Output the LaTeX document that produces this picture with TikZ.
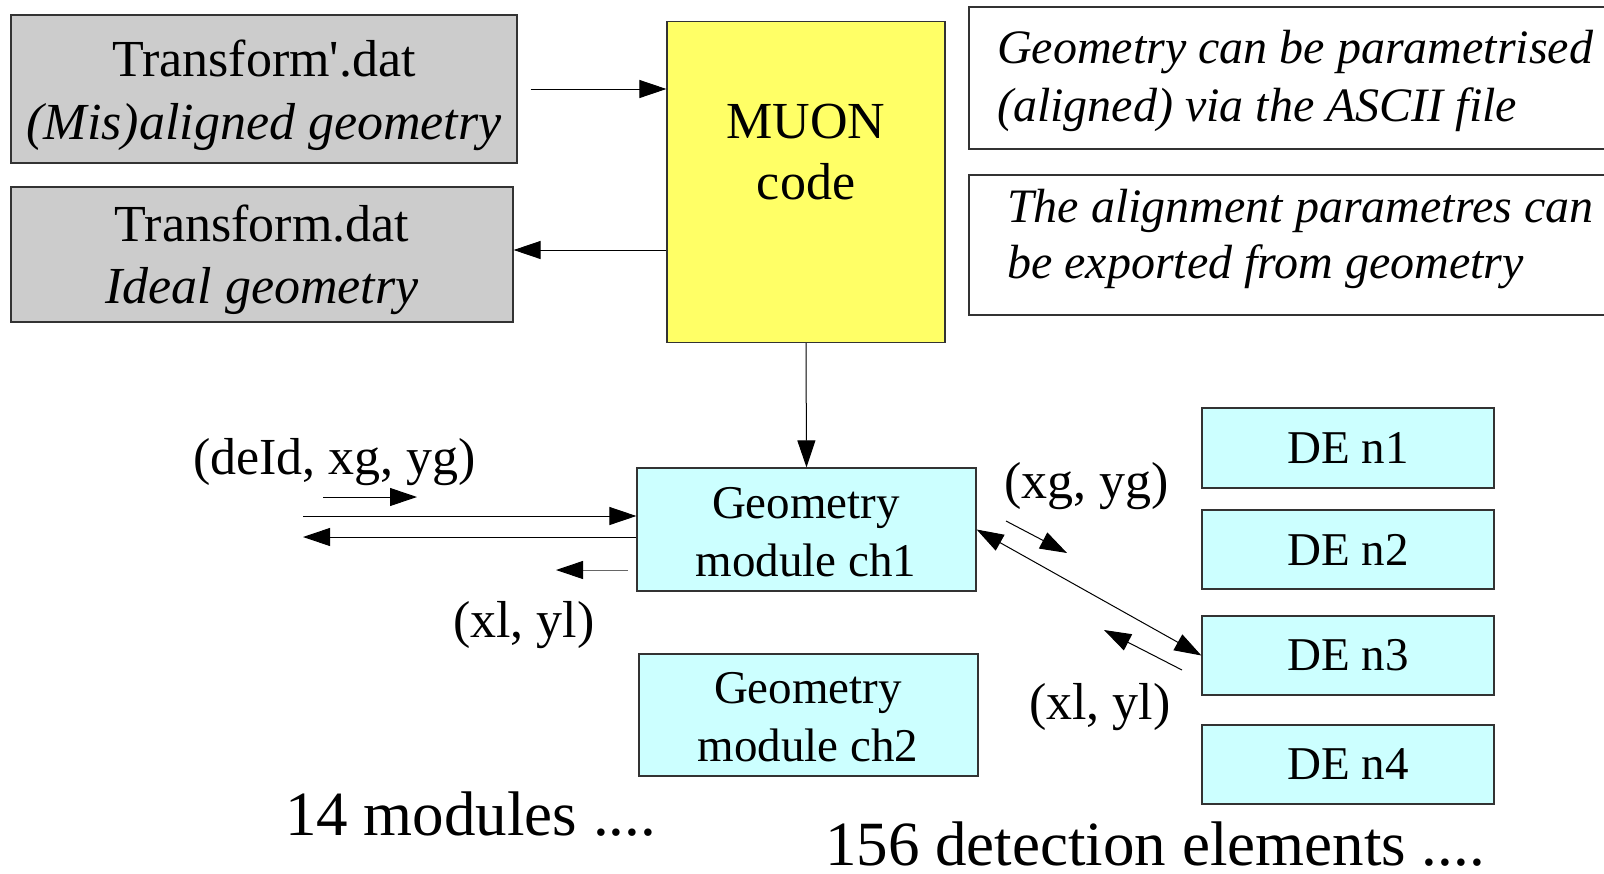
\documentclass[tikz,border=0pt]{standalone}
\usepackage{fontspec}
\setmainfont{Liberation Serif}
\usetikzlibrary{arrows.meta}
\definecolor{filegray}{HTML}{CCCCCC}
\definecolor{codeyellow}{HTML}{FFFF66}
\definecolor{modcyan}{HTML}{CCFFFF}
\definecolor{edgegray}{HTML}{333333}
\begin{document}
\begin{tikzpicture}[x=1pt,y=-1pt,
  box/.style={draw=edgegray, line width=1.2pt, inner sep=0pt},
  filebox/.style={box, fill=filegray},
  codebox/.style={box, fill=codeyellow},
  modbox/.style={box, fill=modcyan, font=\fontsize{47}{57}\selectfont},
  notebox/.style={box, fill=white},
  ctxt/.style={inner sep=0pt, anchor=base},
  ltxt/.style={inner sep=0pt, anchor=base west},
  big/.style={font=\fontsize{52}{61}\selectfont},
  mid/.style={font=\fontsize{47}{57}\selectfont},
  note/.style={font=\fontsize{48}{58}\selectfont\itshape},
  huge/.style={font=\fontsize{63}{72}\selectfont},
  arr/.style={line width=1pt, -{Triangle[length=27pt,width=18pt]}},
  biarr/.style={line width=1pt, {Triangle[length=27pt,width=18pt]}-{Triangle[length=27pt,width=18pt]}},
]
% page
\fill[white] (0,0) rectangle (1604,873);
\useasboundingbox (0,0) rectangle (1604,873);
\clip (0,0) rectangle (1604,873);

% geometry files
\node[filebox, minimum width=506pt, minimum height=148pt] (tfp) at (264,89) {};
\node[ctxt, big] (tfpA) at (264,76) {Transform\textquotesingle.dat};
\node[ctxt, big] (tfpB) at (264,139) {\itshape (Mis)aligned geometry};

\node[filebox, minimum width=502pt, minimum height=135pt] (tf) at (262,254.5) {};
\node[ctxt, big] (tfA) at (262,241) {Transform.dat};
\node[ctxt, big] (tfB) at (262,303) {\itshape Ideal geometry};

% MUON code
\node[codebox, minimum width=278pt, minimum height=321pt] (muon) at (806,182) {};
\node[ctxt, big] (muonA) at (806,138) {MUON};
\node[ctxt, big] (muonB) at (806,199) {code};

% notes
\node[notebox, minimum width=651pt, minimum height=142pt] (n1box) at (1294.5,78) {};
\node[ltxt, note] (n1A) at (997,63) {Geometry can be parametrised};
\node[ltxt, note] (n1B) at (997,121) {(aligned) via the ASCII file};

\node[notebox, minimum width=651pt, minimum height=140pt] (n2box) at (1294.5,245) {};
\node[ltxt, note] (n2A) at (1007,222) {The alignment parametres can};
\node[ltxt, note] (n2B) at (1007,278) {be exported from geometry};

% geometry modules
\node[modbox, minimum width=339pt, minimum height=123pt] (ch1) at (806.5,529.5) {};
\node[ctxt, mid] (ch1A) at (806,518) {Geometry};
\node[ctxt, mid] (ch1B) at (806,576) {module ch1};

\node[modbox, minimum width=339pt, minimum height=122pt] (ch2) at (808.5,715) {};
\node[ctxt, mid] (ch2A) at (808,703) {Geometry};
\node[ctxt, mid] (ch2B) at (808,761) {module ch2};

% detection elements
\node[modbox, minimum width=292pt, minimum height=80pt] (de1) at (1348,448) {DE n1};
\node[modbox, minimum width=292pt, minimum height=79pt] (de2) at (1348,549.5) {DE n2};
\node[modbox, minimum width=292pt, minimum height=79pt] (de3) at (1348,655.5) {DE n3};
\node[modbox, minimum width=292pt, minimum height=79pt] (de4) at (1348,764.5) {DE n4};

% labels
\node[ltxt, big] (lblIn) at (193,474) {(deId, xg, yg)};
\node[ltxt, big] (lblOut) at (453,637) {(xl, yl)};
\node[ltxt, big] (lblG) at (1004,498) {(xg, yg)};
\node[ltxt, big] (lblL) at (1029,719) {(xl, yl)};
\node[ltxt, huge] (cntMod) at (285,835) {14 modules ....};
\node[ltxt, huge] (cntDE) at (825,865) {156 detection elements ....};

% connectors
\draw[arr] ([xshift=13pt]tfp.east) -- (muon.west |- tfp.east);
\coordinate (back) at (600,250);
\draw[arr] (muon.west |- back) -- (tf.east |- back);
\draw[arr] (muon.south) -- (ch1.north);

\coordinate (inL) at (303,516);
\coordinate (outL) at (303,537);
\draw[arr] (inL) -- (inL -| ch1.west);
\draw[arr] (outL -| ch1.west) -- (outL);
\coordinate (dirInA) at (323,497);
\coordinate (dirInB) at (417,497);
\draw[arr] (dirInA) -- (dirInB);
\coordinate (dirOutA) at (628,570);
\coordinate (dirOutB) at (556,570);
\draw[arr, draw=gray!80!black, -{Triangle[length=27pt,width=18pt,color=black]}] (dirOutA) -- (dirOutB);

\draw[biarr] (ch1.east) -- (de3.west);
\coordinate (dgA) at (1006,521);
\coordinate (dgB) at (1067,553);
\draw[arr] (dgA) -- (dgB);
\coordinate (dlA) at (1182,670);
\coordinate (dlB) at (1104,630);
\draw[arr] (dlA) -- (dlB);
\end{tikzpicture}
\end{document}
